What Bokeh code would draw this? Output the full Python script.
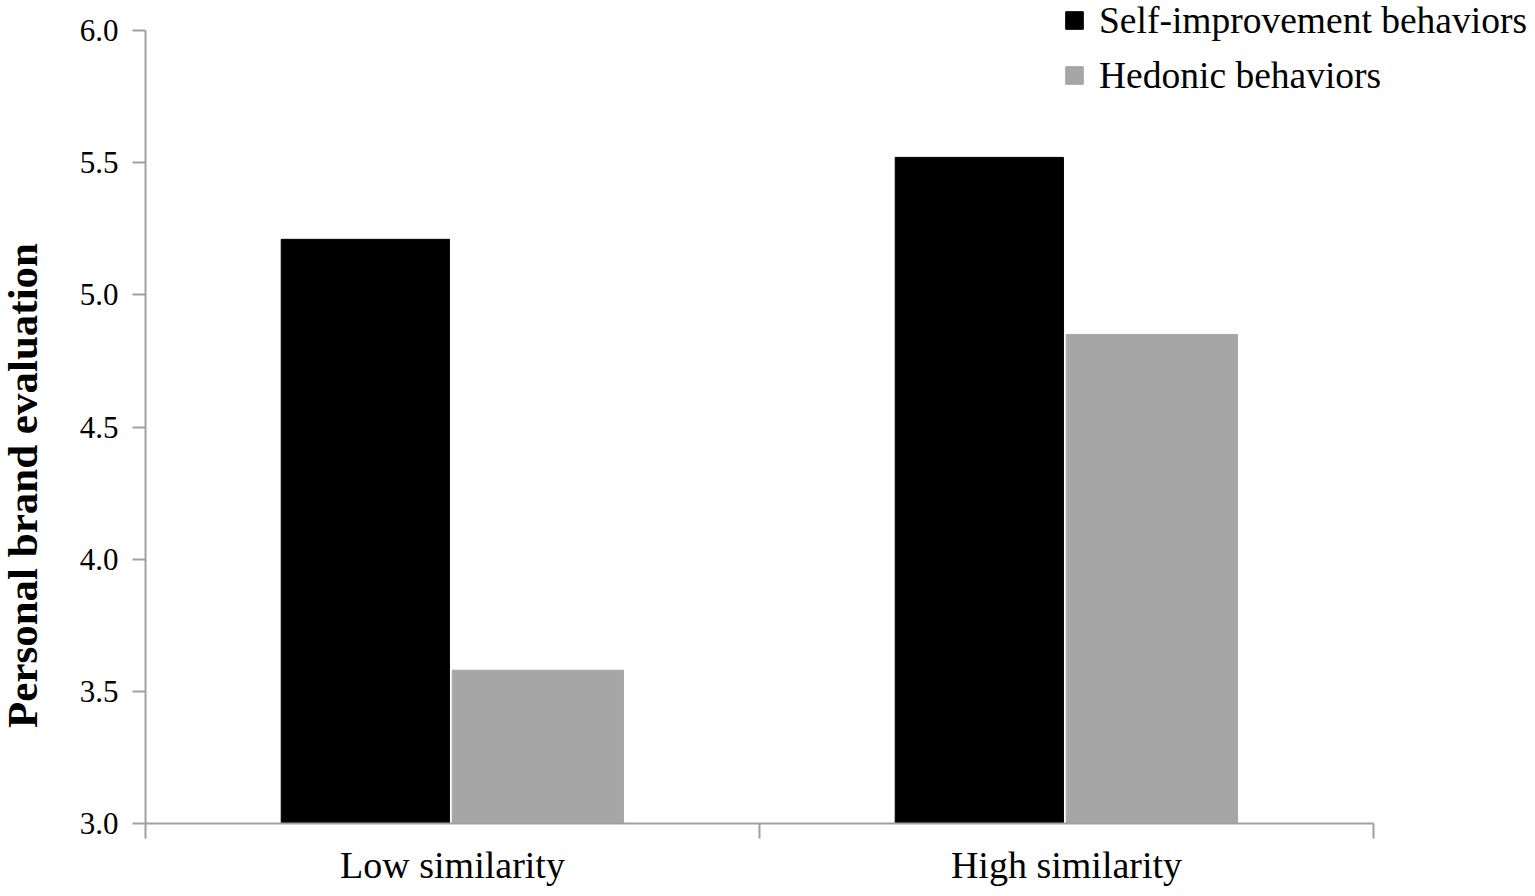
import math
from bokeh.plotting import figure
from bokeh.models import (Range1d, FixedTicker, ColumnDataSource, Legend, LegendItem, Label,
                          NumeralTickFormatter)
from bokeh.embed import file_html
from bokeh.resources import INLINE

categories = ["Low similarity", "High similarity"]
series_names = ["Self-improvement behaviors", "Hedonic behaviors"]
self_vals = [5.21, 5.52]
hedonic_vals = [3.58, 4.85]
y_ticks = [3.0, 3.5, 4.0, 4.5, 5.0, 5.5, 6.0]
y_title = "Personal  brand evaluation"

FONT = "Liberation Serif"
AXIS_COLOR = "#a0a0a0"

# The frame fills the whole canvas; axes are pinned at data locations (fixed_location)
# so that legend and titles that sit in the margins of the original are not clipped.
p = figure(width=1527, height=888, output_backend="svg", toolbar_location=None,
           x_range=Range1d(-0.2362, 2.2508), y_range=Range1d(2.7541, 6.1135),
           min_border_left=0, min_border_right=0, min_border_top=0, min_border_bottom=0)
p.outline_line_color = None
p.grid.visible = False
p.background_fill_color = "white"
p.border_fill_color = "white"

n = len(categories)
centers = [i + 0.5 for i in range(n)]
src_a = ColumnDataSource(dict(x=[c - 0.142 for c in centers], top=self_vals))
src_b = ColumnDataSource(dict(x=[c + 0.139 for c in centers], top=hedonic_vals))
ra = p.vbar(x="x", top="top", bottom=y_ticks[0], width=0.274, source=src_a,
            fill_color="black", line_color="black")
rb = p.vbar(x="x", top="top", bottom=y_ticks[0], width=0.279, source=src_b,
            fill_color="#a6a6a6", line_color="#a6a6a6")

# axis lines limited to the data extent
p.segment(x0=[0, 0], y0=[y_ticks[0], y_ticks[0]], x1=[0, n], y1=[y_ticks[-1], y_ticks[0]],
          line_color=AXIS_COLOR, line_width=2)

# x axis, pinned at y = 3.0
xa = p.xaxis[0]
xa.fixed_location = y_ticks[0]
xa.ticker = FixedTicker(ticks=centers, minor_ticks=list(range(n + 1)))
xa.major_label_overrides = {c: cat for c, cat in zip(centers, categories)}
xa.major_tick_out = 0
xa.major_tick_in = 0
xa.minor_tick_out = 15
xa.minor_tick_in = 0
xa.minor_tick_line_color = AXIS_COLOR
xa.minor_tick_line_width = 2
xa.axis_line_color = None
xa.major_label_text_font = FONT
xa.major_label_text_font_size = "38px"
xa.major_label_text_color = "black"
xa.major_label_standoff = 5

# y axis, pinned at x = 0
ya = p.yaxis[0]
ya.fixed_location = 0
ya.ticker = FixedTicker(ticks=y_ticks, minor_ticks=[])
ya.formatter = NumeralTickFormatter(format="0.0")
ya.major_tick_out = 13
ya.major_tick_in = 0
ya.major_tick_line_color = AXIS_COLOR
ya.major_tick_line_width = 2
ya.minor_tick_out = 0
ya.axis_line_color = None
ya.major_label_text_font = FONT
ya.major_label_text_font_size = "31px"
ya.major_label_text_color = "black"
ya.major_label_standoff = 14

ylab = Label(x=-0.2003, y=4.299, text=y_title, angle=math.pi / 2,
             text_font=FONT, text_font_size="43px", text_font_style="bold",
             text_align="center", text_baseline="middle", text_color="black")
p.add_layout(ylab)

legend = Legend(items=[LegendItem(label=series_names[0], renderers=[ra]),
                       LegendItem(label=series_names[1], renderers=[rb])],
                location=(1063, 791), orientation="vertical",
                label_text_font=FONT, label_text_font_size="37.5px", label_text_color="black",
                glyph_width=22, glyph_height=22, label_height=44, spacing=11,
                label_standoff=14, padding=0, margin=0,
                border_line_color=None, background_fill_alpha=0)
p.add_layout(legend)

open("out.html", "w").write(file_html(p, INLINE))
